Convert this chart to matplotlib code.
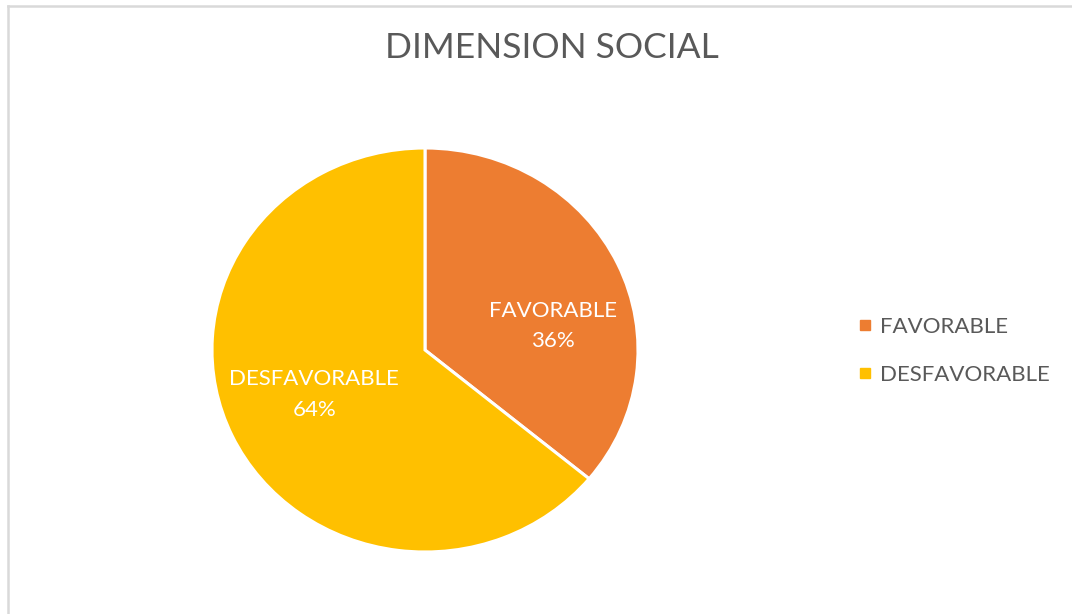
import matplotlib
matplotlib.use("Agg")
from matplotlib import pyplot as plt
from matplotlib.lines import Line2D

categories = ["FAVORABLE", "DESFAVORABLE"]
shares = [36, 64]
colors = ["#ED7D31", "#FFC000"]
title = "DIMENSION SOCIAL"

plt.rcParams['font.family'] = ['Lato', 'DejaVu Sans']

W, H = 1072, 614
fig = plt.figure(figsize=(W / 100, H / 100), dpi=100)

# pie area in pixels (the original is slightly squashed)
left, right, top, bottom = 212, 638, 148, 552
ax = fig.add_axes([left / W, 1 - bottom / H, (right - left) / W, (bottom - top) / H])

wedges, texts = ax.pie(shares, colors=colors, startangle=90, counterclock=False,
                       wedgeprops=dict(edgecolor="white", linewidth=2.2),
                       labels=[f"{c}\n{s}%" for c, s in zip(categories, shares)],
                       labeldistance=0.6,
                       textprops=dict(color="white", fontsize=16, ha="center", va="center",
                                      linespacing=1.65))
ax.set_aspect("auto")
ax.set_xlim(-1, 1)
ax.set_ylim(-1, 1)

# nudge labels to where the original puts them
texts[0].set_position((0.60, 0.12))
texts[1].set_position((-0.52, -0.22))

fig.text(0.515, 1 - 48 / H, title, ha="center", va="center", fontsize=25.5, color="#595959")

handles = [Line2D([], [], marker="s", linestyle="none", markersize=6.5,
                  markerfacecolor=c, markeredgecolor=c) for c in colors]
fig.legend(handles, categories, loc="center left", bbox_to_anchor=(839 / W, 1 - 351 / H),
           frameon=False, fontsize=16, labelcolor="#595959", handlelength=0.5,
           handletextpad=0.45, labelspacing=1.25)

# chart-area border (only top and left visible in the crop)
fig.add_artist(Line2D([8 / W, 1], [1 - 6 / H, 1 - 6 / H], color="#D9D9D9", linewidth=1.8))
fig.add_artist(Line2D([8 / W, 8 / W], [0, 1 - 6 / H], color="#D9D9D9", linewidth=1.8))

fig.savefig("out.png", dpi=100, facecolor="white")
